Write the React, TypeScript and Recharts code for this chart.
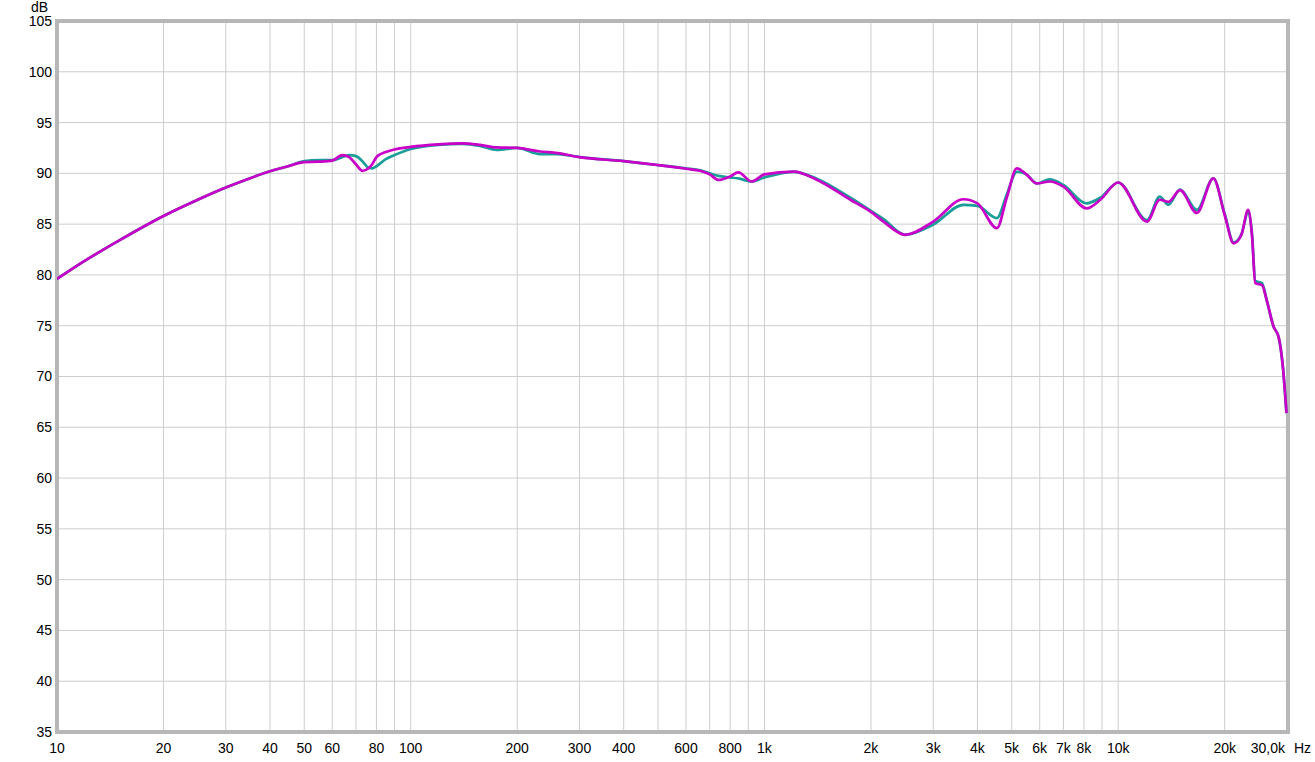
import React from 'react';
import { LineChart, Line, XAxis, YAxis, CartesianGrid, ReferenceArea } from 'recharts';

const freqs = [
  10, 12, 15, 20, 25, 30, 35, 40, 45, 50, 55, 60, 64, 67, 70, 73, 76, 78, 80, 85, 90, 100,
  120, 140, 157, 175, 200, 232, 260, 300, 400, 475, 600, 658, 700, 741, 800, 843, 920, 1000,
  1210, 1400, 1750, 2000, 2170, 2500, 3000, 3650, 4000, 4540, 4840, 5170, 5500, 5890, 6400,
  7000, 8140, 8900, 10000, 12060, 13100, 13860, 14960, 16680, 18580, 20000, 21200, 22300,
  23300, 23900, 24400, 25500, 26300, 27500, 28400, 29200, 29900,
];

const magenta = [
  79.6, 81.4, 83.4, 85.8, 87.4, 88.6, 89.5, 90.2, 90.7, 91.1, 91.15, 91.25, 91.8, 91.6, 90.9, 90.25, 90.5, 90.95, 91.6, 92.1, 92.35, 92.6,
  92.85, 92.95, 92.8, 92.55, 92.5, 92.15, 92.0, 91.6, 91.2, 90.9, 90.45, 90.25, 89.9, 89.35, 89.7, 90.1, 89.2, 89.9,
  90.17, 89.4, 87.4, 86.2, 85.25, 83.95, 85.25, 87.45, 87.05, 84.6, 87.6, 90.5, 89.9, 89.0, 89.2,
  88.7, 86.55, 87.4, 89.1, 85.25, 87.4, 87.2, 88.35, 86.1, 89.5, 85.9, 83.1, 83.95,
  86.4, 83.8, 79.2, 79.0, 77.5, 74.9, 73.9, 71.0, 66.4,
];

const teal = [
  79.6, 81.4, 83.4, 85.8, 87.4, 88.6, 89.5, 90.2, 90.7, 91.2, 91.3, 91.3, 91.6, 91.8, 91.7, 91.2, 90.55, 90.5, 90.7, 91.4, 91.8, 92.4,
  92.8, 92.9, 92.7, 92.3, 92.5, 91.9, 91.9, 91.6, 91.2, 90.9, 90.5, 90.3, 90.0, 89.75, 89.6, 89.5, 89.2, 89.6,
  90.15, 89.5, 87.6, 86.3, 85.5, 83.95, 84.95, 86.9, 86.8, 85.6, 87.9, 90.16, 89.9, 89.0, 89.4,
  88.85, 87.05, 87.6, 89.1, 85.4, 87.7, 86.9, 88.4, 86.4, 89.5, 86.0, 83.2, 84.0,
  86.2, 84.0, 79.4, 79.2, 77.5, 74.9, 73.9, 71.0, 66.4,
];

const gridFreqs = [
  10, 20, 30, 40, 50, 60, 70, 80, 90,
  100, 200, 300, 400, 500, 600, 700, 800, 900,
  1000, 2000, 3000, 4000, 5000, 6000, 7000, 8000, 9000,
  10000, 20000, 30000,
];

const freqLabels: Record<number, string> = {
  10: '10', 20: '20', 30: '30', 40: '40', 50: '50', 60: '60', 80: '80',
  100: '100', 200: '200', 300: '300', 400: '400', 600: '600', 800: '800',
  1000: '1k', 2000: '2k', 3000: '3k', 4000: '4k', 5000: '5k', 6000: '6k', 7000: '7k', 8000: '8k',
  10000: '10k', 20000: '20k', 30000: '30,0k',
};

const dbTicks = [35, 40, 45, 50, 55, 60, 65, 70, 75, 80, 85, 90, 95, 100, 105];

const data = freqs.map((f, i) => ({ f, a: teal[i], b: magenta[i] }));

const FONT = '"Liberation Sans", Arial, sans-serif';

const FreqTick = (props: any) => {
  const { x, y, payload } = props;
  const label = freqLabels[payload.value];
  if (!label) return null;
  if (payload.value === 30000) {
    return (
      <g>
        <text x={x - 2} y={y + 13} textAnchor="end" fontSize={14} fontFamily={FONT} fill="#000">{label}</text>
        <text x={x + 7} y={y + 13} textAnchor="start" fontSize={14} fontFamily={FONT} fill="#000">Hz</text>
      </g>
    );
  }
  return (
    <text x={x} y={y + 13} textAnchor="middle" fontSize={14} fontFamily={FONT} fill="#000">{label}</text>
  );
};

export default function App() {
  return (
    <div style={{ position: 'absolute', left: 0, top: 0, width: 1315, height: 762, background: '#fff' }}>
      <div style={{ position: 'absolute', left: 31, top: 0, fontSize: 14, fontFamily: FONT, color: '#000', lineHeight: '15px' }}>dB</div>
      <LineChart width={1315} height={762} data={data} margin={{ top: 21, right: 27, bottom: 0, left: 0 }}>
        <CartesianGrid stroke="#cdcdcd" strokeWidth={1} />
        <XAxis
          dataKey="f"
          type="number"
          scale="log"
          domain={[10, 30200]}
          ticks={gridFreqs}
          interval={0}
          allowDataOverflow
          tickLine={false}
          axisLine={false}
          height={30}
          tick={<FreqTick />}
        />
        <YAxis
          type="number"
          domain={[35, 105]}
          ticks={dbTicks}
          interval={0}
          width={57}
          tickLine={false}
          axisLine={false}
          tickSize={0}
          tickMargin={5}
          tick={{ fontSize: 14, fontFamily: FONT, fill: '#000' }}
        />
        <ReferenceArea x1={10} x2={30200} y1={35} y2={105} fill="none" stroke="#b7b7b7" strokeWidth={4} ifOverflow="visible" />
        <Line type="monotone" dataKey="a" stroke="#1b9d98" strokeWidth={2.7} dot={false} isAnimationActive={false} />
        <Line type="monotone" dataKey="b" stroke="#c800c8" strokeWidth={2.7} dot={false} isAnimationActive={false} />
      </LineChart>
    </div>
  );
}
